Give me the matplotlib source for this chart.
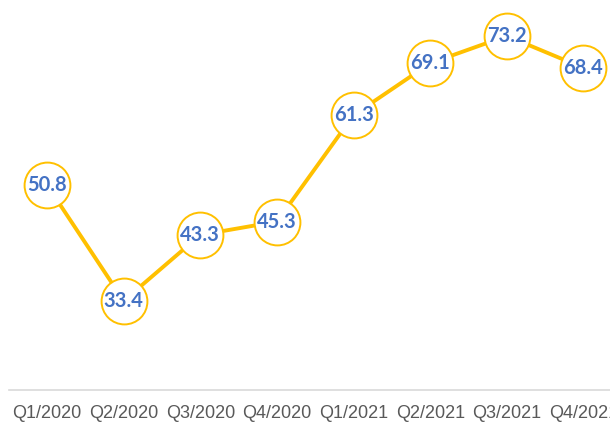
import matplotlib.pyplot as plt

# Quarterly values
quarters = ['Q1/2020', 'Q2/2020', 'Q3/2020', 'Q4/2020',
            'Q1/2021', 'Q2/2021', 'Q3/2021', 'Q4/2021']
values = [50.8, 33.4, 43.3, 45.3, 61.3, 69.1, 73.2, 68.4]

gold = '#FFC000'
blue = '#4472C4'

fig = plt.figure(figsize=(6.1, 4.23), dpi=100)
ax = fig.add_axes([0.0143, 0.078, 1.005, 0.922])

x = list(range(len(quarters)))
ax.plot(x, values, color=gold, linewidth=2.8, zorder=2,
        marker='o', markersize=33, markerfacecolor='white',
        markeredgecolor=gold, markeredgewidth=1.4)

for xi, v in zip(x, values):
    ax.text(xi, v, f'{v:.1f}', ha='center', va='center', color=blue,
            fontsize=14.5, fontweight='bold', family=['Lato', 'DejaVu Sans'],
            zorder=3)

ax.set_xlim(-0.5, len(quarters) - 0.5)
ax.set_ylim(20, 78.6)
ax.set_xticks(x)
ax.set_xticklabels(quarters, fontsize=13, color='#595959',
                   family=['Liberation Sans', 'DejaVu Sans'])
ax.tick_params(axis='x', length=0, pad=11)
ax.set_yticks([])

for side in ['top', 'right', 'left']:
    ax.spines[side].set_visible(False)
ax.spines['bottom'].set_color('#D9D9D9')
ax.spines['bottom'].set_linewidth(1.2)

fig.savefig('out.png', dpi=100)
